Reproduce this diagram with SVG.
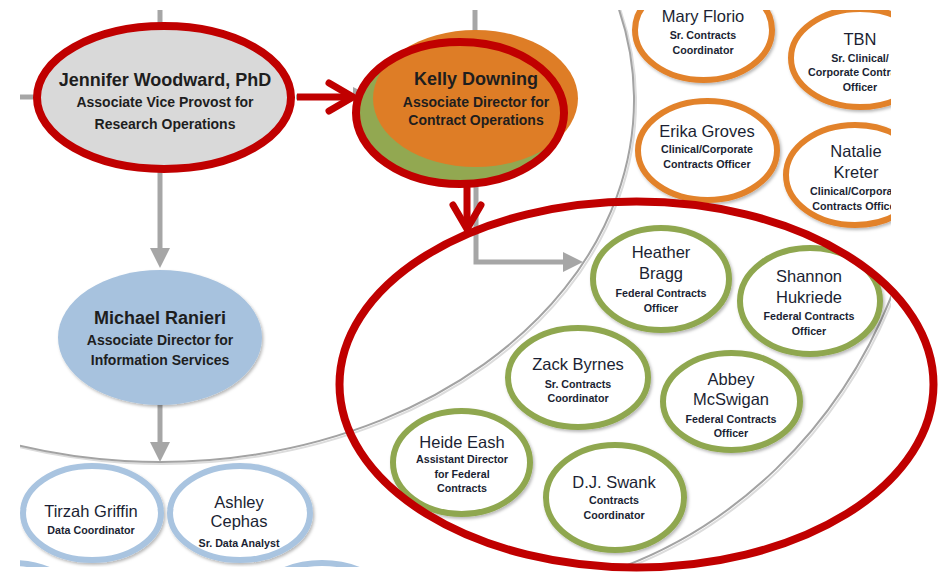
<svg xmlns="http://www.w3.org/2000/svg" width="943" height="572" viewBox="0 0 943 572">
<defs>
<style>
text{font-family:"Liberation Sans",Arial,sans-serif;text-anchor:middle;fill:#1b1f33}
.nm{font-size:16.5px}
.sb{font-size:10.7px;font-weight:bold}
.bn{font-size:18px;font-weight:bold;fill:#1e1e1e}
.bs{font-size:14px;font-weight:bold;fill:#1e1e1e}
.oc{fill:#fff;stroke:#e2822b;stroke-width:6}
.gc{fill:#fff;stroke:#8fa74f;stroke-width:6}
.bc{fill:#fff;stroke:#a9c4e0;stroke-width:6}
.gl{fill:none;stroke:#a6a6a6;stroke-width:5}
.arc{fill:none;stroke:#a3a3a3;stroke-width:2}
.arcs{fill:none;stroke:#dcdcdc;stroke-width:2}
.rl{fill:none;stroke:#c00000;stroke-width:7}
.re{fill:none;stroke:#c00000;stroke-width:8}
</style>
<clipPath id="clip"><rect x="20" y="10" width="871" height="557"/></clipPath>
<filter id="sh" x="-10%" y="-10%" width="125%" height="130%">
<feDropShadow dx="1.5" dy="2" stdDeviation="1.5" flood-color="#000" flood-opacity="0.28"/>
</filter>
<marker id="ga" viewBox="0 0 20 20" refX="8" refY="10" markerWidth="20" markerHeight="20" markerUnits="userSpaceOnUse" orient="auto">
<path d="M0,0 L20,10 L0,20 z" fill="#a6a6a6"/>
</marker>
<marker id="ra" viewBox="-30 -20 40 40" refX="0" refY="0" markerWidth="40" markerHeight="40" markerUnits="userSpaceOnUse" orient="auto" overflow="visible">
<path d="M-24,-14 L0,0 L-24,14" fill="none" stroke="#c00000" stroke-width="7" stroke-linecap="round" stroke-linejoin="round"/>
</marker>
</defs>
<rect width="943" height="572" fill="#fff"/>
<g clip-path="url(#clip)">
<g id="background-arcs">
<path class="arcs" d="M617.6,2 A474,362 0 0 1 2,442.7"/>
<path class="arc" d="M615.6,0 A474,362 0 0 1 0,440.7"/>
<path class="arcs" d="M902,275.2 A459,495 0 0 1 584.1,582"/>
<path class="arc" d="M900,273.2 A459,495 0 0 1 582.1,580"/>
</g>
<g id="connectors">
<line class="gl" x1="160" y1="10" x2="160" y2="26"/>
<line class="gl" x1="20" y1="97" x2="38" y2="97"/>
<line class="gl" x1="475" y1="10" x2="475" y2="34"/>
<line class="gl" x1="160" y1="170" x2="160" y2="256" marker-end="url(#ga)"/>
<line class="gl" x1="160" y1="400" x2="160" y2="450" marker-end="url(#ga)"/>
<line class="gl" x1="296" y1="97" x2="361" y2="97" marker-end="url(#ga)"/>
<path class="gl" d="M476,180 V262 H571" marker-end="url(#ga)"/>
</g>
<g id="jennifer-woodward">
<ellipse cx="164" cy="97.5" rx="127" ry="71.5" fill="#d9d9d9"/>
<text class="bn" x="165" y="86">Jennifer Woodward, PhD</text>
<text class="bs" x="165" y="107">Associate Vice Provost for</text>
<text class="bs" x="165" y="129">Research Operations</text>
</g>
<g id="kelly-downing">
<ellipse cx="460" cy="113" rx="104" ry="71" fill="#92a851"/>
<ellipse cx="475.5" cy="98.5" rx="102.5" ry="68.5" fill="#de7d26"/>
<text class="bn" x="476" y="85">Kelly Downing</text>
<text class="bs" x="476" y="107">Associate Director for</text>
<text class="bs" x="476" y="125">Contract Operations</text>
</g>
<g id="michael-ranieri">
<ellipse cx="160" cy="337.5" rx="102" ry="67.5" fill="#a7c2de" filter="url(#sh)"/>
<text class="bn" x="160" y="324">Michael Ranieri</text>
<text class="bs" x="160" y="345">Associate Director for</text>
<text class="bs" x="160" y="365">Information Services</text>
</g>
<g id="mary-florio">
<ellipse class="oc" cx="703.5" cy="30" rx="68.5" ry="50" filter="url(#sh)"/>
<text class="nm" x="703" y="22">Mary Florio</text>
<text class="sb" x="703" y="39">Sr. Contracts</text>
<text class="sb" x="703" y="54">Coordinator</text>
</g>
<g id="tbn">
<ellipse class="oc" cx="860" cy="58" rx="69" ry="49" filter="url(#sh)"/>
<text class="nm" x="860" y="45">TBN</text>
<text class="sb" x="860" y="61.5">Sr. Clinical/</text>
<text class="sb" x="860" y="76">Corporate Contracts</text>
<text class="sb" x="860" y="90.5">Officer</text>
</g>
<g id="erika-groves">
<ellipse class="oc" cx="707.5" cy="150.5" rx="69.5" ry="49.5" filter="url(#sh)"/>
<text class="nm" x="707" y="136.5">Erika Groves</text>
<text class="sb" x="707" y="153">Clinical/Corporate</text>
<text class="sb" x="707" y="168">Contracts Officer</text>
</g>
<g id="natalie-kreter">
<ellipse class="oc" cx="855" cy="175" rx="69" ry="50" filter="url(#sh)"/>
<text class="nm" x="856" y="156.5">Natalie</text>
<text class="nm" x="856" y="178">Kreter</text>
<text class="sb" x="856" y="195">Clinical/Corporate</text>
<text class="sb" x="856" y="210">Contracts Officer</text>
</g>
<g id="heather-bragg">
<ellipse class="gc" cx="661" cy="279" rx="68" ry="51" filter="url(#sh)"/>
<text class="nm" x="661" y="258">Heather</text>
<text class="nm" x="661" y="279">Bragg</text>
<text class="sb" x="661" y="297">Federal Contracts</text>
<text class="sb" x="661" y="312">Officer</text>
</g>
<g id="shannon-hukriede">
<ellipse class="gc" cx="810" cy="301" rx="70" ry="53" filter="url(#sh)"/>
<text class="nm" x="809" y="281.5">Shannon</text>
<text class="nm" x="809" y="303">Hukriede</text>
<text class="sb" x="809" y="320">Federal Contracts</text>
<text class="sb" x="809" y="335">Officer</text>
</g>
<g id="zack-byrnes">
<ellipse class="gc" cx="578" cy="377.5" rx="70" ry="49.5" filter="url(#sh)"/>
<text class="nm" x="578" y="370">Zack Byrnes</text>
<text class="sb" x="578" y="388">Sr. Contracts</text>
<text class="sb" x="578" y="402">Coordinator</text>
</g>
<g id="abbey-mcswigan">
<ellipse class="gc" cx="731.5" cy="401.5" rx="68.5" ry="48.5" filter="url(#sh)"/>
<text class="nm" x="731" y="385">Abbey</text>
<text class="nm" x="731" y="405">McSwigan</text>
<text class="sb" x="731" y="423">Federal Contracts</text>
<text class="sb" x="731" y="437">Officer</text>
</g>
<g id="heide-eash">
<ellipse class="gc" cx="461.5" cy="462.5" rx="68.5" ry="51.5" filter="url(#sh)"/>
<text class="nm" x="462" y="448">Heide Eash</text>
<text class="sb" x="462" y="463">Assistant Director</text>
<text class="sb" x="462" y="477.5">for Federal</text>
<text class="sb" x="462" y="492">Contracts</text>
</g>
<g id="dj-swank">
<ellipse class="gc" cx="615" cy="497.5" rx="69" ry="52.5" filter="url(#sh)"/>
<text class="nm" x="614" y="488">D.J. Swank</text>
<text class="sb" x="614" y="504">Contracts</text>
<text class="sb" x="614" y="519">Coordinator</text>
</g>
<g id="tirzah-griffin">
<ellipse class="bc" cx="92" cy="513" rx="69" ry="47" filter="url(#sh)"/>
<text class="nm" x="91" y="516.5">Tirzah Griffin</text>
<text class="sb" x="91" y="534">Data Coordinator</text>
</g>
<g id="ashley-cephas">
<ellipse class="bc" cx="240" cy="513" rx="70" ry="47" filter="url(#sh)"/>
<text class="nm" x="239" y="507.5">Ashley</text>
<text class="nm" x="239" y="527">Cephas</text>
<text class="sb" x="239" y="546.5">Sr. Data Analyst</text>
</g>
<g id="partial-blue-1">
<ellipse class="bc" cx="12" cy="610" rx="70" ry="47"/>
</g>
<g id="partial-blue-2">
<ellipse class="bc" cx="322" cy="610" rx="70" ry="47"/>
</g>
</g>
<g id="annotations">
<ellipse class="re" cx="164" cy="97.5" rx="127" ry="71.5"/>
<ellipse class="re" cx="460" cy="113" rx="104" ry="71"/>
<ellipse class="re" cx="636.5" cy="384.5" rx="297" ry="183"/>
<line class="rl" x1="297" y1="97" x2="353" y2="97" marker-end="url(#ra)"/>
<line class="rl" x1="467" y1="186" x2="467" y2="229" marker-end="url(#ra)"/>
</g>
</svg>
